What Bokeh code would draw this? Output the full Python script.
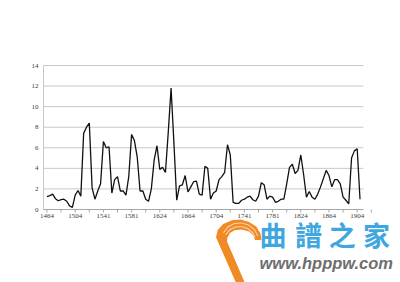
from bokeh.plotting import figure
from bokeh.models import Range1d, Label, PolyAnnotation
from bokeh.embed import file_html
from bokeh.resources import INLINE

# ---- data ----
tick_labels = ["1464", "1504", "1541", "1581", "1624", "1664",
               "1704", "1741", "1781", "1824", "1864", "1904"]
values = [
    1.26, 1.35, 1.5, 1.05, 0.85, 0.95, 1.0, 0.8, 0.35, 0.2,
    1.4, 1.85, 1.3, 7.4, 8.0, 8.4, 2.1, 1.0, 1.8, 2.5,
    6.6, 6.0, 6.1, 1.6, 2.9, 3.2, 1.8, 1.8, 1.4, 3.2,
    7.3, 6.7, 5.1, 1.8, 1.8, 1.0, 0.8, 2.0, 4.8, 6.2,
    3.9, 4.1, 3.6, 7.5, 11.8, 6.5, 0.9, 2.3, 2.4, 3.3,
    1.7, 2.2, 2.7, 2.75, 1.5, 1.4, 4.2, 4.0, 1.0, 1.6,
    1.8, 2.9, 3.2, 3.6, 6.3, 5.3, 0.7, 0.6, 0.6, 0.9,
    1.0, 1.2, 1.3, 0.95, 0.8, 1.3, 2.6, 2.4, 1.0, 1.3,
    1.2, 0.7, 0.8, 1.0, 1.0, 2.5, 4.1, 4.4, 3.5, 3.8,
    5.3, 3.4, 1.2, 1.75, 1.2, 1.0, 1.5, 2.2, 3.0, 3.8,
    3.3, 2.2, 2.9, 2.9, 2.5, 1.2, 0.9, 0.55, 5.0, 5.7,
    5.9, 1.0,
]
y_ticks = [0, 2, 4, 6, 8, 10, 12, 14]
label_every = 10

idx = list(range(len(values)))
label_pos = [i * label_every for i in range(len(tick_labels))]
minor_pos = [pos + label_every / 2 for pos in label_pos]

# chart area (data units) and its place on the canvas
X_MIN, X_MAX = -1.24, 112.2
Y_MIN, Y_MAX = 0, 14
W, H = 400, 282
LEFT, TOP = 43, 65                # chart area offset on the canvas (px)
PX_PER_X = 2.82                   # px per category
PX_PER_Y = 144 / 14               # px per value unit

x0 = X_MIN - LEFT / PX_PER_X
x1 = x0 + W / PX_PER_X
y1 = Y_MAX + TOP / PX_PER_Y
y0 = y1 - H / PX_PER_Y

p = figure(width=W, height=H, output_backend="svg", toolbar_location=None,
           x_range=Range1d(x0, x1), y_range=Range1d(y0, y1),
           x_axis_location=None, y_axis_location=None,
           min_border=0)
p.outline_line_color = None
p.background_fill_color = "white"
p.border_fill_color = "white"
p.grid.visible = False

GRID = "#c8c8c8"
AXIS = "#a6a6a6"
LABEL_FONT = "Liberation Serif"

# horizontal gridlines
p.segment(x0=[X_MIN] * len(y_ticks), y0=y_ticks, x1=[X_MAX] * len(y_ticks), y1=y_ticks,
          line_color=GRID, line_width=1)
# left axis line
p.segment(x0=[X_MIN], y0=[Y_MIN], x1=[X_MIN], y1=[Y_MAX], line_color=GRID, line_width=1)
# y labels
p.text(x=[X_MIN] * len(y_ticks), y=y_ticks, text=[str(t) for t in y_ticks],
       text_align="right", text_baseline="middle", x_offset=-5,
       text_font=LABEL_FONT, text_font_size="7px", text_color="#404040")

# bottom axis line, tick marks, labels
tick_len = 3 / PX_PER_Y
p.segment(x0=[X_MIN], y0=[Y_MIN], x1=[X_MAX], y1=[Y_MIN], line_color=AXIS, line_width=1)
all_ticks = label_pos + minor_pos
p.segment(x0=all_ticks, y0=[Y_MIN] * len(all_ticks), x1=all_ticks,
          y1=[Y_MIN - tick_len] * len(all_ticks), line_color=AXIS, line_width=1)
p.text(x=label_pos, y=[Y_MIN] * len(label_pos), text=tick_labels,
       text_align="center", text_baseline="top", y_offset=4,
       text_font=LABEL_FONT, text_font_size="7px", text_color="#404040")

# the series
p.line(idx, values, line_color="#111111", line_width=1.3)

# ---- watermark (screen units: x from left, y upward from bottom) ----
def sx(cx):
    return cx
def sy(cy):
    return H - cy

def poly(points, color):
    p.add_layout(PolyAnnotation(xs=[sx(a) for a, b in points], ys=[sy(b) for a, b in points],
                                xs_units="screen", ys_units="screen",
                                fill_color=color, fill_alpha=1.0, line_color=None))

logo = [(236.7, 285), (215.5, 236.7), (217.2, 229.5), (222.8, 223.6), (231.5, 219.8),
        (240, 219), (248.6, 221.4), (255.6, 226), (260, 233), (261, 239.5),
        (254.5, 239.5), (253, 235), (248.5, 231), (241, 229), (234, 229.7),
        (229.5, 232.5), (226.8, 237.5), (226.5, 241), (245.5, 285)]
poly(logo, "#f08a24")
stripe1 = [(222.5, 232), (227.3, 225.8), (233.8, 222.6), (241, 222), (248.2, 224.1),
           (254.4, 228.8), (257.8, 235.5), (256.9, 235.8), (253.6, 229.6), (247.8, 225.1),
           (241, 223.1), (234.2, 223.6), (228, 226.7), (223.4, 232.6)]
poly(stripe1, "#fbd2aa")
stripe2 = [(224.8, 234), (229.2, 228.6), (234.8, 225.9), (241, 225.4), (247.4, 227.4),
           (252.4, 231.6), (255.2, 237), (254.3, 237.3), (251.6, 232.4), (246.9, 228.4),
           (241, 226.5), (235.1, 226.9), (229.9, 229.5), (225.7, 234.6)]
poly(stripe2, "#fbd2aa")

chars = ["曲", "譜", "之", "家"]
char_x = [272.5, 308, 341.7, 376]
for ch, cx in zip(chars, char_x):
    p.add_layout(Label(x=sx(cx), y=sy(234), x_units="screen", y_units="screen",
                       text=ch, text_align="center", text_baseline="middle",
                       text_font="Noto Sans CJK TC", text_font_style="bold",
                       text_font_size="27px", text_color="#3fa7e0"))

p.add_layout(Label(x=sx(259), y=sy(262), x_units="screen", y_units="screen",
                   text="www.hpppw.com", text_align="left", text_baseline="middle",
                   text_font="Liberation Sans", text_font_style="bold italic",
                   text_font_size="16.5px", text_color="#6e6e6e"))

open("out.html", "w").write(file_html(p, INLINE))
